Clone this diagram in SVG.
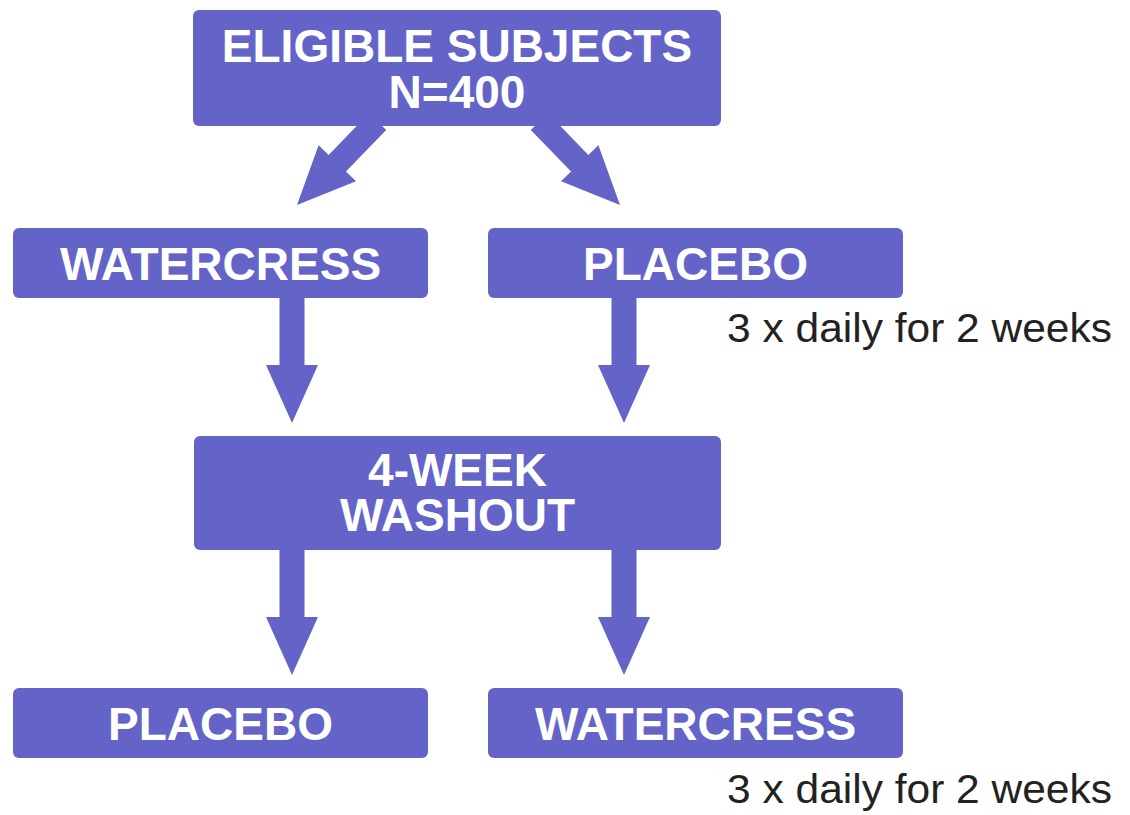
<svg xmlns="http://www.w3.org/2000/svg" width="1130" height="815" viewBox="0 0 1130 815">
<style>
.box{fill:#6464C8;}
.arr{fill:#6464C8;}
.lbl{font-family:"Liberation Sans",Arial,sans-serif;font-weight:bold;font-size:46px;fill:#ffffff;text-anchor:middle;}
.note{font-family:"Liberation Sans",Arial,sans-serif;font-size:41px;fill:#222222;}
</style>
<defs>
<polygon id="arrowV" points="0,0 -26,-58 -12.5,-58 -12.5,-127 12.5,-127 12.5,-58 26,-58"/>
<polygon id="arrowD" points="0,0 -26,-58 -12,-58 -12,-116 12,-116 12,-58 26,-58"/>
</defs>
<rect width="1130" height="815" fill="#ffffff"/>
<g id="connectors">
<use href="#arrowD" class="arr" transform="translate(297,205) rotate(44)"/>
<use href="#arrowD" class="arr" transform="translate(620,205) rotate(-44)"/>
<use href="#arrowV" class="arr" transform="translate(292,423)"/>
<use href="#arrowV" class="arr" transform="translate(624,423)"/>
<use href="#arrowV" class="arr" transform="translate(292,675)"/>
<use href="#arrowV" class="arr" transform="translate(624,675)"/>
</g>
<g id="eligible">
<rect class="box" x="193" y="10" width="528" height="116" rx="6"/>
<text class="lbl" x="457" y="62">ELIGIBLE SUBJECTS</text>
<text class="lbl" x="457" y="108">N=400</text>
</g>
<g id="watercress1">
<rect class="box" x="13" y="228" width="415" height="70" rx="6"/>
<text class="lbl" x="220.5" y="280">WATERCRESS</text>
</g>
<g id="placebo1">
<rect class="box" x="488" y="228" width="415" height="70" rx="6"/>
<text class="lbl" x="695.5" y="280">PLACEBO</text>
</g>
<g id="note1">
<text class="note" x="727" y="342" textLength="385" lengthAdjust="spacingAndGlyphs">3 x daily for 2 weeks</text>
</g>
<g id="washout">
<rect class="box" x="194" y="436" width="527" height="114" rx="6"/>
<text class="lbl" x="457.5" y="486">4-WEEK</text>
<text class="lbl" x="457.5" y="531">WASHOUT</text>
</g>
<g id="placebo2">
<rect class="box" x="13" y="688" width="415" height="70" rx="6"/>
<text class="lbl" x="220.5" y="740">PLACEBO</text>
</g>
<g id="watercress2">
<rect class="box" x="488" y="688" width="415" height="70" rx="6"/>
<text class="lbl" x="695.5" y="740">WATERCRESS</text>
</g>
<g id="note2">
<text class="note" x="727" y="803" textLength="385" lengthAdjust="spacingAndGlyphs">3 x daily for 2 weeks</text>
</g>
</svg>
